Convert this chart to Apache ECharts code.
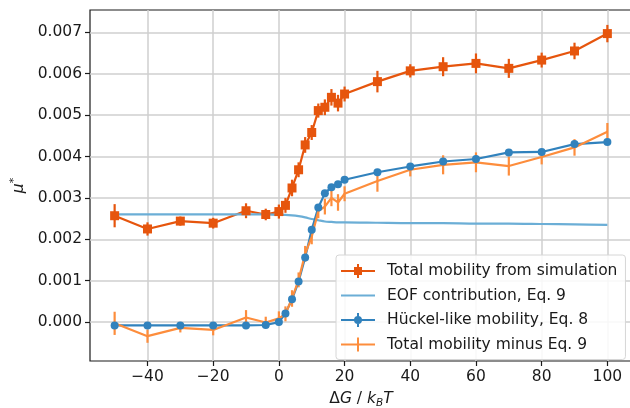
<!DOCTYPE html>
<html>
<head>
<meta charset="utf-8">
<script src="https://cdn.jsdelivr.net/npm/echarts@6/dist/echarts.min.js"></script>
<style>
  html, body { margin: 0; padding: 0; background: #fff; }
  #chart { width: 630px; height: 408px; }
</style>
</head>
<body>
<div id="chart"></div>
<script>
// data
const dG = [-50, -40, -30, -20, -10, -4, 0, 2, 4, 6, 8, 10, 12, 14, 16, 18, 20, 30, 40, 50, 60, 70, 80, 90, 100];
const totalSim = [0.00257, 0.00225, 0.00244, 0.00239, 0.00269, 0.00260, 0.00267, 0.00282, 0.00324, 0.00368, 0.00428, 0.00458, 0.00511, 0.00519, 0.00543, 0.00529, 0.00551, 0.00581, 0.00607, 0.00617, 0.00625, 0.00613, 0.00633, 0.00655, 0.00697];
const totalErr = [0.00028, 0.00016, 0.00011, 0.00013, 0.00018, 0.00014, 0.00017, 0.00018, 0.00020, 0.00018, 0.00019, 0.00018, 0.00017, 0.00019, 0.00020, 0.00020, 0.00018, 0.00026, 0.00016, 0.00023, 0.00024, 0.00023, 0.00018, 0.00020, 0.00021];
const eofContrib = [0.00260, 0.00260, 0.00260, 0.00260, 0.00260, 0.00260, 0.00259, 0.00259, 0.00258, 0.00256, 0.00253, 0.00249, 0.00246, 0.00243, 0.00242, 0.00241, 0.00241, 0.00240, 0.00239, 0.00239, 0.00238, 0.00238, 0.00237, 0.00236, 0.00235];
const huckel = [-0.00008, -0.00008, -0.00008, -0.00008, -0.00008, -0.00007, 0.00000, 0.00021, 0.00055, 0.00098, 0.00156, 0.00223, 0.00277, 0.00311, 0.00326, 0.00333, 0.00344, 0.00362, 0.00376, 0.00388, 0.00394, 0.00410, 0.00411, 0.00430, 0.00435];
const huckelErr = [0.00006, 0.00006, 0.00006, 0.00006, 0.00006, 0.00006, 0.00006, 0.00006, 0.00006, 0.00006, 0.00006, 0.00006, 0.00006, 0.00006, 0.00006, 0.00006, 0.00006, 0.00006, 0.00006, 0.00006, 0.00006, 0.00006, 0.00006, 0.00008, 0.00006];
const minusEof = [-0.00003, -0.00034, -0.00014, -0.00019, 0.00011, -0.00001, 0.00009, 0.00020, 0.00057, 0.00102, 0.00165, 0.00206, 0.00268, 0.00279, 0.00300, 0.00289, 0.00310, 0.00341, 0.00368, 0.00380, 0.00386, 0.00377, 0.00399, 0.00422, 0.00460];

const xTicks = [-40, -20, 0, 20, 40, 60, 80, 100];
const yTicks = [0, 0.001, 0.002, 0.003, 0.004, 0.005, 0.006, 0.007];

const C_TOTAL = '#e6550d', C_EOF = '#6baed6', C_HUCKEL = '#3182bd', C_MINUS = '#fd8d3c';
const FONT = 'DejaVu Sans';
const INK = '#1a1a1a';

function pairs(ys) { return dG.map((x, i) => [x, ys[i]]); }

function errBars(name, ys, errs, color) {
  return {
    name: name,
    type: 'custom',
    silent: true,
    itemStyle: { color: color },
    data: dG.map((x, i) => [x, ys[i] - errs[i], ys[i] + errs[i]]),
    renderItem: function (params, api) {
      const lo = api.coord([api.value(0), api.value(1)]);
      const hi = api.coord([api.value(0), api.value(2)]);
      return {
        type: 'line',
        shape: { x1: lo[0], y1: lo[1], x2: hi[0], y2: hi[1] },
        style: { stroke: color, lineWidth: 2.2 }
      };
    }
  };
}

const chart = echarts.init(document.getElementById('chart'), null, { renderer: 'canvas' });

chart.setOption({
  animation: false,
  backgroundColor: '#fff',
  grid: {
    left: 90, top: 10, right: -2, bottom: 47,
    outerBoundsMode: 'none',
    containLabel: false,
    show: true, borderColor: INK, borderWidth: 1.2
  },
  xAxis: {
    type: 'value',
    min: -57.5, max: 107.5,
    name: '{r|Δ}{i|G}{r| / }{i|k}{s|B}{i|T}',
    nameLocation: 'middle',
    nameGap: 28,
    nameTextStyle: {
      rich: {
        r: { fontFamily: FONT, fontSize: 15.5, color: INK, lineHeight: 20 },
        i: { fontFamily: FONT, fontSize: 15.5, fontStyle: 'italic', color: INK, lineHeight: 20 },
        s: { fontFamily: FONT, fontSize: 10.5, fontStyle: 'italic', color: INK, lineHeight: 10, verticalAlign: 'bottom' }
      }
    },
    axisLine: { show: false, onZero: false },
    axisTick: { show: true, length: 5, lineStyle: { color: INK, width: 1.2 }, customValues: xTicks },
    axisLabel: {
      customValues: xTicks,
      fontFamily: FONT, fontSize: 15.5, color: INK, margin: 8,
      formatter: v => (v < 0 ? '\u2212' + Math.abs(v) : String(v))
    },
    splitLine: { show: true, lineStyle: { color: '#cfcfcf', width: 1.5 } }
  },
  yAxis: {
    type: 'value',
    min: -0.00094, max: 0.00754,
    name: '{i|μ}{p|*}',
    nameLocation: 'middle',
    nameRotate: 90,
    nameGap: 60,
    nameTextStyle: {
      rich: {
        i: { fontFamily: FONT, fontSize: 15.5, fontStyle: 'italic', color: INK, lineHeight: 20 },
        p: { fontFamily: FONT, fontSize: 11, color: INK, lineHeight: 11, verticalAlign: 'top' }
      }
    },
    axisLine: { show: false, onZero: false },
    axisTick: { show: true, length: 5, lineStyle: { color: INK, width: 1.2 }, customValues: yTicks },
    axisLabel: {
      customValues: yTicks,
      fontFamily: FONT, fontSize: 15.5, color: INK, margin: 8,
      formatter: v => v.toFixed(3)
    },
    splitLine: { show: true, lineStyle: { color: '#cfcfcf', width: 1.5 } }
  },
  legend: {
    orient: 'vertical',
    left: 336, top: 255,
    padding: [8, 8, 7, 5],
    itemWidth: 34, itemHeight: 14, itemGap: 8.5,
    backgroundColor: 'rgba(255,255,255,0.85)',
    borderColor: '#d6d6d6', borderWidth: 1, borderRadius: 3,
    textStyle: { fontFamily: FONT, fontSize: 15.5, color: INK, padding: [0, 0, 0, 7] },
    data: [
      { name: 'Total mobility from simulation', icon: 'path://M0,6H34V8H0Z M16,0H18V14H16Z M13,3H21V11H13Z', itemStyle: { color: C_TOTAL } },
      { name: 'EOF contribution, Eq. 9', icon: 'path://M0,0H34V0.1H0Z M0,6H34V8H0Z M0,13.9H34V14H0Z', itemStyle: { color: C_EOF } },
      { name: 'Hückel-like mobility, Eq. 8', icon: 'path://M0,6H34V8H0Z M16,0H18V14H16Z M13,7a4,4 0 1,1 8,0a4,4 0 1,1 -8,0Z', itemStyle: { color: C_HUCKEL } },
      { name: 'Total mobility minus Eq. 9', icon: 'path://M0,6H34V8H0Z M16,0H18V14H16Z', itemStyle: { color: C_MINUS } }
    ]
  },
  series: [
    errBars('Total mobility from simulation', totalSim, totalErr, C_TOTAL),
    {
      name: 'Total mobility from simulation',
      type: 'line',
      data: pairs(totalSim),
      symbol: 'rect', symbolSize: 9,
      itemStyle: { color: C_TOTAL },
      lineStyle: { color: C_TOTAL, width: 2.2 }
    },
    {
      name: 'EOF contribution, Eq. 9',
      type: 'line',
      data: pairs(eofContrib),
      symbol: 'none', smooth: 0.3,
      itemStyle: { color: C_EOF },
      lineStyle: { color: C_EOF, width: 2.2 }
    },
    errBars('Hückel-like mobility, Eq. 8', huckel, huckelErr, C_HUCKEL),
    {
      name: 'Hückel-like mobility, Eq. 8',
      type: 'line',
      data: pairs(huckel),
      symbol: 'circle', symbolSize: 8,
      itemStyle: { color: C_HUCKEL },
      lineStyle: { color: C_HUCKEL, width: 2.2 }
    },
    errBars('Total mobility minus Eq. 9', minusEof, totalErr, C_MINUS),
    {
      name: 'Total mobility minus Eq. 9',
      type: 'line',
      data: pairs(minusEof),
      symbol: 'none',
      itemStyle: { color: C_MINUS },
      lineStyle: { color: C_MINUS, width: 2.2 }
    }
  ]
});
</script>
</body>
</html>
